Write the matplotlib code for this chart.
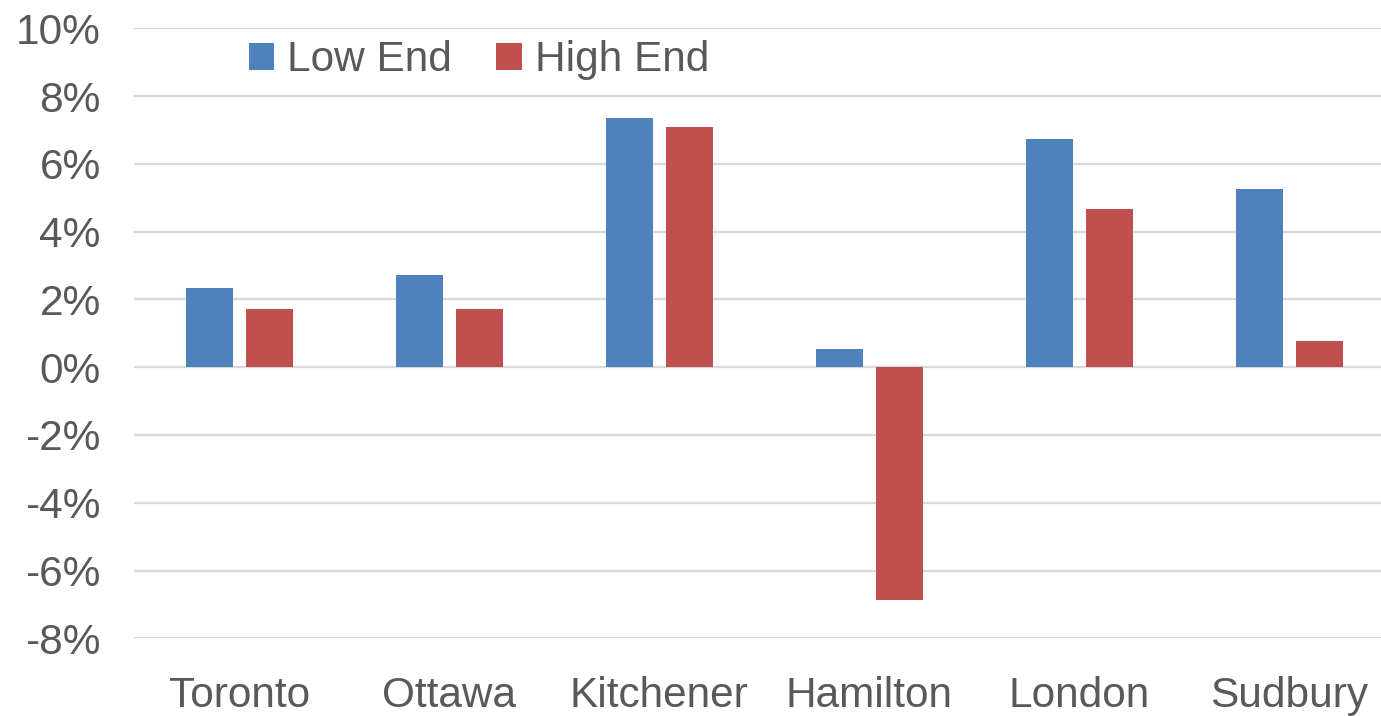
import matplotlib
matplotlib.use("Agg")
import matplotlib.pyplot as plt
import numpy as np
from matplotlib.ticker import FuncFormatter

cities = ["Toronto", "Ottawa", "Kitchener", "Hamilton", "London", "Sudbury"]
low_end = [2.34, 2.73, 7.34, 0.54, 6.74, 5.26]
high_end = [1.71, 1.73, 7.10, -6.86, 4.67, 0.76]
series_names = ["Low End", "High End"]
y_ticks = [-8, -6, -4, -2, 0, 2, 4, 6, 8, 10]

BLUE = "#4F81BD"
RED = "#C0504D"
TEXT = "#595959"
GRID = "#D9D9D9"

plt.rcParams["font.family"] = ["Liberation Sans", "DejaVu Sans"]

W, H = 1381, 716
left_px, right_px = 134.1, 1394.7
top_px, bottom_px = 28.3, 638.3
fig = plt.figure(figsize=(W / 100, H / 100), dpi=100)
ax = fig.add_axes([left_px / W, 1 - bottom_px / H,
                   (right_px - left_px) / W, (bottom_px - top_px) / H])

x = np.arange(len(cities))
bw = 0.224
off = bw / 2 + 0.031
b1 = ax.bar(x - off, low_end, bw, color=BLUE, label=series_names[0], zorder=3)
b2 = ax.bar(x + off, high_end, bw, color=RED, label=series_names[1], zorder=3)

ax.set_xlim(-0.5, len(cities) - 0.5)
ax.set_ylim(-8, 10)
ax.set_yticks(y_ticks)
ax.yaxis.set_major_formatter(FuncFormatter(lambda v, _: f"{v:.0f}%"))
ax.set_xticks(x)
ax.set_xticklabels(cities)

ax.grid(axis="y", color=GRID, linewidth=1.7, zorder=0)
for s in ax.spines.values():
    s.set_visible(False)
ax.tick_params(axis="both", length=0, labelsize=30.5, labelcolor=TEXT)
ax.tick_params(axis="y", pad=24)
ax.tick_params(axis="x", pad=27)

leg = fig.legend(
    handles=[b1, b2],
    labels=series_names,
    loc="center left",
    bbox_to_anchor=(249 / W, 1 - 60 / H),
    ncol=2,
    frameon=False,
    fontsize=30.5,
    handlelength=0.6,
    handleheight=0.6,
    handletextpad=0.3,
    columnspacing=1.05,
    borderpad=0,
    borderaxespad=0,
)
for t in leg.get_texts():
    t.set_color(TEXT)

fig.savefig("out.png", dpi=100, facecolor="white")
